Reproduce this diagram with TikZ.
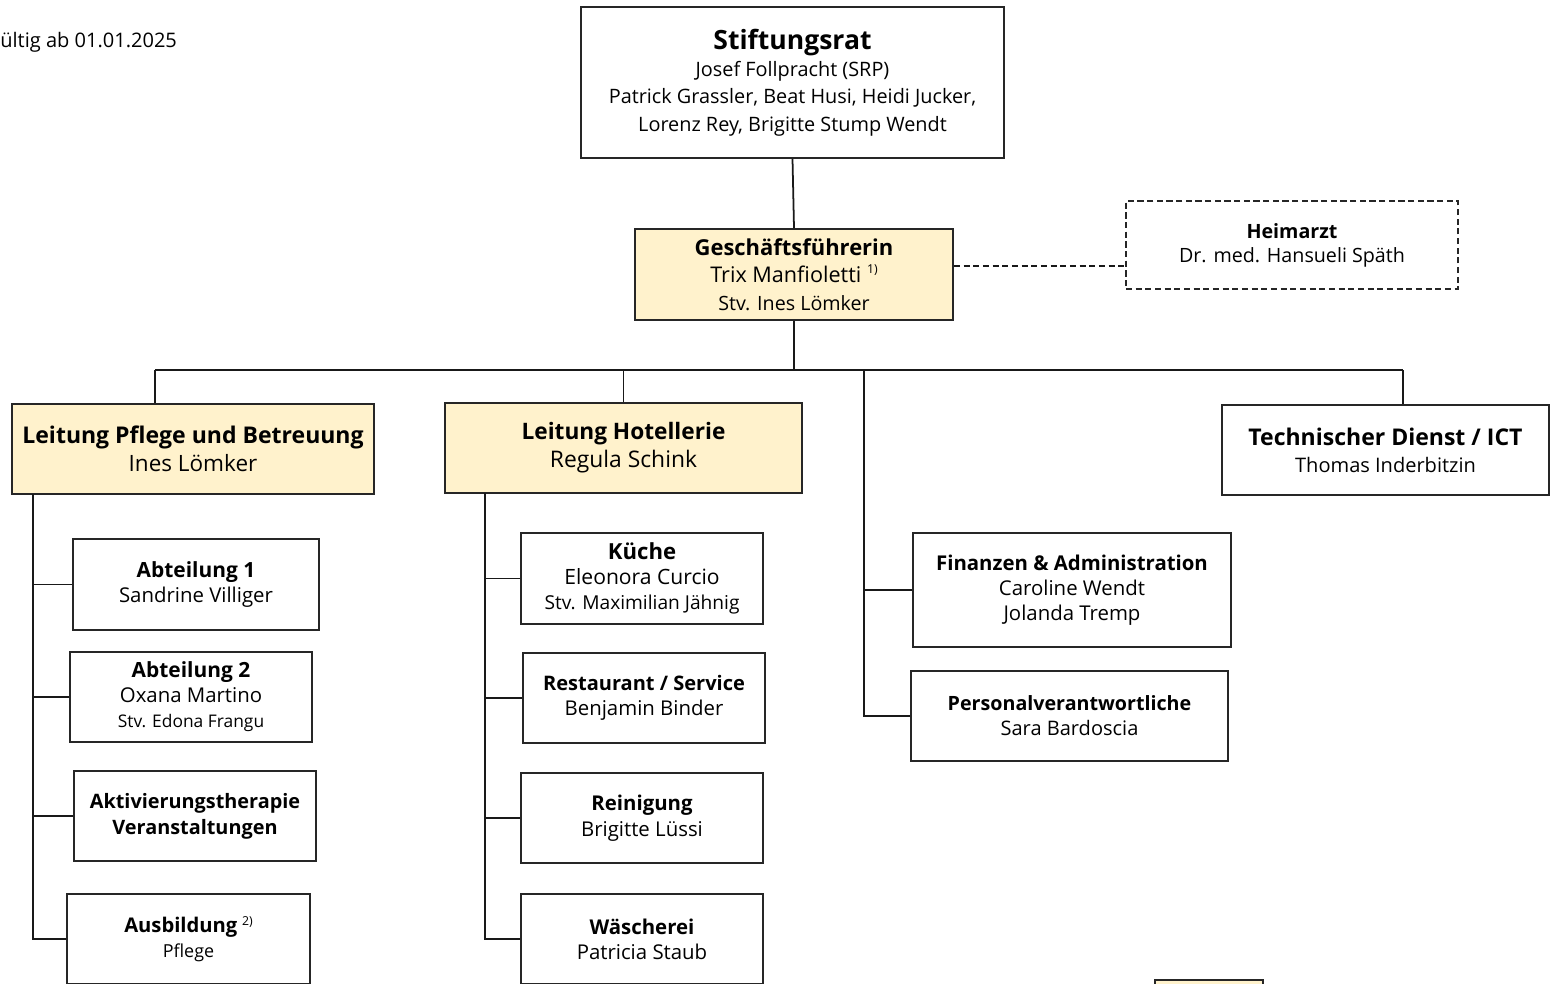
\documentclass[tikz,border=0pt]{standalone}
\usepackage{fontspec}
\setmainfont{Open Sans}
\usetikzlibrary{calc}
\definecolor{cream}{RGB}{255,242,204}
\tikzset{
	box/.style={draw=black!85, line width=1.1pt, align=center, inner sep=0pt, fill=white},
	leit/.style={box, fill=cream},
	wh/.style 2 args={minimum width=#1*0.02cm, minimum height=#2*0.02cm},
	link/.style={line width=1pt, draw=black!90},
}
\newcommand\fs[2]{\fontsize{#1}{#2}\selectfont}
\newcommand\fn[1]{\ \raisebox{0.8ex}{\fs{7}{7}#1}}

\begin{document}
\begin{tikzpicture}[x=0.02cm, y=-0.02cm]
		%%%%% START %%%%%
		\useasboundingbox (0,0) rectangle (1550,983);
		\clip (0,0) rectangle (1550,983);
		
		\node[anchor=west, inner sep=0pt, font=\fs{11.4}{13}] (gueltig) at (0,42) {ültig ab 01.01.2025};
		
		\node[box, wh={423}{151}, font=\fs{11.3}{15.6}] (sr) at (792.5,82.5)
			{{\fs{15.1}{15.6}\bfseries Stiftungsrat}\\ Josef Follpracht (SRP)\\ Patrick Grassler, Beat Husi, Heidi Jucker,\\ Lorenz Rey, Brigitte Stump Wendt};
		\node[leit, wh={318}{91}, font=\fs{12.3}{15.8}] (gf) at (794,274.5)
			{{\fs{12.5}{15.8}\bfseries Geschäftsführerin}\\ Trix Manfioletti\fn{1)}\\ {\fs{11.2}{15.8}Stv. Ines Lömker}};
		\node[box, dashed, dash pattern=on 3.5pt off 2pt, wh={332}{88}, font=\fs{11.2}{13.6}] (arzt) at (1292,245)
			{{\bfseries Heimarzt}\\ Dr. med. Hansueli Späth};
		
		\node[leit, wh={362}{90}, font=\fs{12.8}{15.9}] (lpb) at (193,449)
			{{\fs{13.1}{15.9}\bfseries Leitung Pflege und Betreuung}\\ Ines Lömker};
		\node[leit, wh={357}{90}, font=\fs{13}{15.9}] (lh) at (623.5,448)
			{{\fs{12.9}{15.9}\bfseries Leitung Hotellerie}\\ Regula Schink};
		\node[box, wh={327}{90}, font=\fs{11.4}{15.3}] (td) at (1385.5,450)
			{{\fs{13.1}{15.3}\bfseries Technischer Dienst / ICT}\\ Thomas Inderbitzin};
		
		\node[box, wh={246}{91}, font=\fs{11.6}{14.2}] (abt1) at (196,584.5)
			{{\fs{11.9}{14.2}\bfseries Abteilung 1}\\ Sandrine Villiger};
		\node[box, wh={242}{90}, font=\fs{11.6}{14.2}] (abt2) at (191,697)
			{{\fs{11.9}{14.2}\bfseries Abteilung 2}\\ Oxana Martino\\ {\fs{9.9}{14.2}Stv. Edona Frangu}};
		\node[box, wh={242}{90}, font=\fs{11.3}{14.7}\bfseries] (akt) at (195,816)
			{Aktivierungstherapie\\ Veranstaltungen};
		\node[box, wh={243}{90}, font=\fs{10.2}{14.2}] (ausb) at (188.5,939)
			{{\fs{11.5}{14.2}\bfseries Ausbildung}\fn{2)}\\ Pflege};
		
		\node[box, wh={242}{91}, font=\fs{12}{14.4}] (kue) at (642,578.5)
			{{\fs{12.6}{14.4}\bfseries Küche}\\ Eleonora Curcio\\ {\fs{10.9}{14.4}Stv. Maximilian Jähnig}};
		\node[box, wh={242}{90}, font=\fs{11.6}{14.2}] (rest) at (644,698)
			{{\fs{11.4}{14.2}\bfseries Restaurant / Service}\\ Benjamin Binder};
		\node[box, wh={242}{90}, font=\fs{11.6}{15}] (rein) at (642,818)
			{{\fs{11.6}{15}\bfseries Reinigung}\\ Brigitte Lüssi};
		\node[box, wh={242}{90}, font=\fs{11.6}{14.2}] (wae) at (642,939)
			{{\fs{11.6}{14.2}\bfseries Wäscherei}\\ Patricia Staub};
		
		\node[box, wh={318}{114}, font=\fs{11.6}{14.4}] (fin) at (1072,590)
			{{\fs{11.6}{14.4}\bfseries Finanzen \& Administration}\\ Caroline Wendt\\ Jolanda Tremp};
		\node[box, wh={317}{90}, font=\fs{11.4}{14.2}] (pers) at (1069.5,716)
			{{\fs{11.2}{14.2}\bfseries Personalverantwortliche}\\ Sara Bardoscia};
		
		\node[leit, wh={108}{40}] (legende) at (1209,1000) {};
		
		\draw[link] (sr.south) -- (gf.north);
		\coordinate (dl) at ($(gf.east)+(0,-8.5)$);
		\draw[link, dashed, dash pattern=on 3.5pt off 2pt] (dl) -- (dl -| arzt.west);
		
		\coordinate (bl) at (155,370);
		\coordinate (br) at (1403,370);
		\coordinate (bm) at (864,370);
		\draw[link] (gf.south) -- (gf.south |- bl);
		\draw[link] (bl) -- (br);
		\draw[link] (bl) -- (bl |- lpb.north);
		\draw[link] (lh.north |- bl) -- (lh.north);
		\draw[link] (br) -- (br |- td.north);
		
		\coordinate (lt) at (33,494);
		\draw[link] (lt) |- (ausb.west);
		\foreach \n in {abt1,abt2,akt}
			\draw[link] (lt |- \n.west) -- (\n.west);
		
		\coordinate (mt) at (485,493);
		\draw[link] (mt) |- (wae.west);
		\foreach \n in {kue,rest,rein}
			\draw[link] (mt |- \n.west) -- (\n.west);
		
		\draw[link] (bm) |- (pers.west);
		\draw[link] (bm |- fin.west) -- (fin.west);
		%%%%% END %%%%%
\end{tikzpicture}
\end{document}
